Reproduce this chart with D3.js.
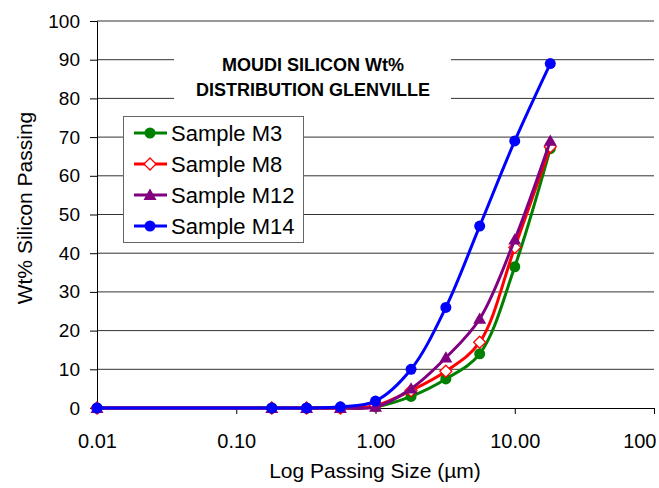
<!DOCTYPE html>
<html>
<head>
<meta charset="utf-8">
<script src="https://cdn.jsdelivr.net/npm/d3@7"></script>
<style>
body{margin:0;background:#fff;}
text{font-family:"Liberation Sans",Arial,sans-serif;fill:#000;}
</style>
</head>
<body>
<div id="chart"></div>
<script>
// MOUDI stage cut sizes (um)
var sizes=[0.01,0.18,0.32,0.56,1.0,1.8,3.2,5.6,10,18];
var m3=[0,0,0,0,0.3,3,7.5,14,36.5,67];
var m8=[0,0,0,0,0.6,4.5,9.5,17,41.5,67.5];
var m12=[0,0,0,0,0.3,5,13,23,43.5,69];
var m14=[0,0,0,0.3,1.8,10,26,47,69,89];
var seriesNames=['Sample M3','Sample M8','Sample M12','Sample M14'];
var seriesColors=['#008000','#ff0000','#800080','#0000ff'];
var seriesShapes=['circle','diamond','triangle','circle'];
var xTicks=[0.01,0.1,1,10,100];
var xTickLabels=['0.01','0.10','1.00','10.00','100'];
var yTicks=[0,10,20,30,40,50,60,70,80,90,100];

var W=659,H=488;
var svg=d3.select('#chart').append('svg').attr('width',W).attr('height',H);
var x=d3.scaleLog().domain([0.01,100]).range([97,654]);
var y=d3.scaleLinear().domain([0,100]).range([408,21]);

// gridlines
svg.append('g').selectAll('line').data(yTicks.filter(function(d){return d>0;})).enter().append('line')
  .attr('x1',97).attr('x2',654).attr('y1',function(d){return y(d);}).attr('y2',function(d){return y(d);})
  .attr('stroke','#333').attr('stroke-width',1);

// y axis
var yAxis=svg.append('g').attr('transform','translate(97,0)')
  .call(d3.axisLeft(y).tickValues(yTicks).tickSize(7).tickPadding(10).tickFormat(d3.format('d')));
yAxis.select('.domain').attr('stroke','#000');
yAxis.selectAll('.tick line').attr('stroke','#000');
yAxis.selectAll('text').style('font-size','19px').attr('fill','#000');

// x axis
var xAxis=svg.append('g').attr('transform','translate(0,408)')
  .call(d3.axisBottom(x).tickValues(xTicks).tickSize(6).tickPadding(20)
  .tickFormat(function(d,i){return xTickLabels[i];}));
xAxis.select('.domain').attr('stroke','#000');
xAxis.selectAll('.tick line').attr('stroke','#000');
xAxis.selectAll('text').style('font-size','20px').attr('fill','#000');
xAxis.selectAll('.tick').filter(function(d){return d===100;}).select('text').attr('text-anchor','end').attr('x',2);

// axis titles
svg.append('text').attr('x',375).attr('y',478).attr('text-anchor','middle').style('font-size','21px').text('Log Passing Size (µm)');
svg.append('text').attr('transform','translate(32,208) rotate(-90)').attr('text-anchor','middle').style('font-size','21px').text('Wt% Silicon Passing');

// title box
svg.append('rect').attr('x',174).attr('y',44).attr('width',277).attr('height',60).attr('fill','#fff');
svg.append('text').attr('x',313).attr('y',71).attr('text-anchor','middle').style('font-size','18px').style('font-weight','bold').text('MOUDI SILICON Wt%');
svg.append('text').attr('x',313).attr('y',96).attr('text-anchor','middle').style('font-size','18px').style('font-weight','bold').text('DISTRIBUTION GLENVILLE');

function marker(g,shape,color,cx,cy){
  if(shape==='circle'){
    g.append('circle').attr('cx',cx).attr('cy',cy).attr('r',5.5).attr('fill',color);
  } else if(shape==='diamond'){
    var r=6;
    g.append('path').attr('d','M'+cx+','+(cy-r)+'L'+(cx+r)+','+cy+'L'+cx+','+(cy+r)+'L'+(cx-r)+','+cy+'Z')
      .attr('fill','#fff').attr('stroke',color).attr('stroke-width',1.3);
  } else {
    var r2=6.5;
    g.append('path').attr('d','M'+cx+','+(cy-r2)+'L'+(cx+r2)+','+(cy+r2*0.75)+'L'+(cx-r2)+','+(cy+r2*0.75)+'Z')
      .attr('fill',color);
  }
}

var allSeries=[m3,m8,m12,m14];
var line=d3.line().x(function(d){return x(d[0]);}).y(function(d){return y(d[1]);}).curve(d3.curveCatmullRom.alpha(0.5));
allSeries.forEach(function(vals,i){
  var pts=sizes.map(function(s,j){return [s,vals[j]];});
  var g=svg.append('g');
  g.append('path').datum(pts).attr('d',line).attr('fill','none').attr('stroke',seriesColors[i]).attr('stroke-width',3);
  pts.forEach(function(p){marker(g,seriesShapes[i],seriesColors[i],x(p[0]),y(p[1]));});
});

// legend
var lg=svg.append('g');
lg.append('rect').attr('x',123.5).attr('y',116.5).attr('width',180).attr('height',126).attr('fill','#fff').attr('stroke','#666').attr('stroke-width',1);
seriesNames.forEach(function(n,i){
  var ly=133+i*31;
  lg.append('line').attr('x1',134).attr('x2',167).attr('y1',ly).attr('y2',ly).attr('stroke',seriesColors[i]).attr('stroke-width',3);
  marker(lg,seriesShapes[i],seriesColors[i],150,ly);
  lg.append('text').attr('x',171).attr('y',ly+7.5).style('font-size','22px').text(n);
});
</script>
</body>
</html>
